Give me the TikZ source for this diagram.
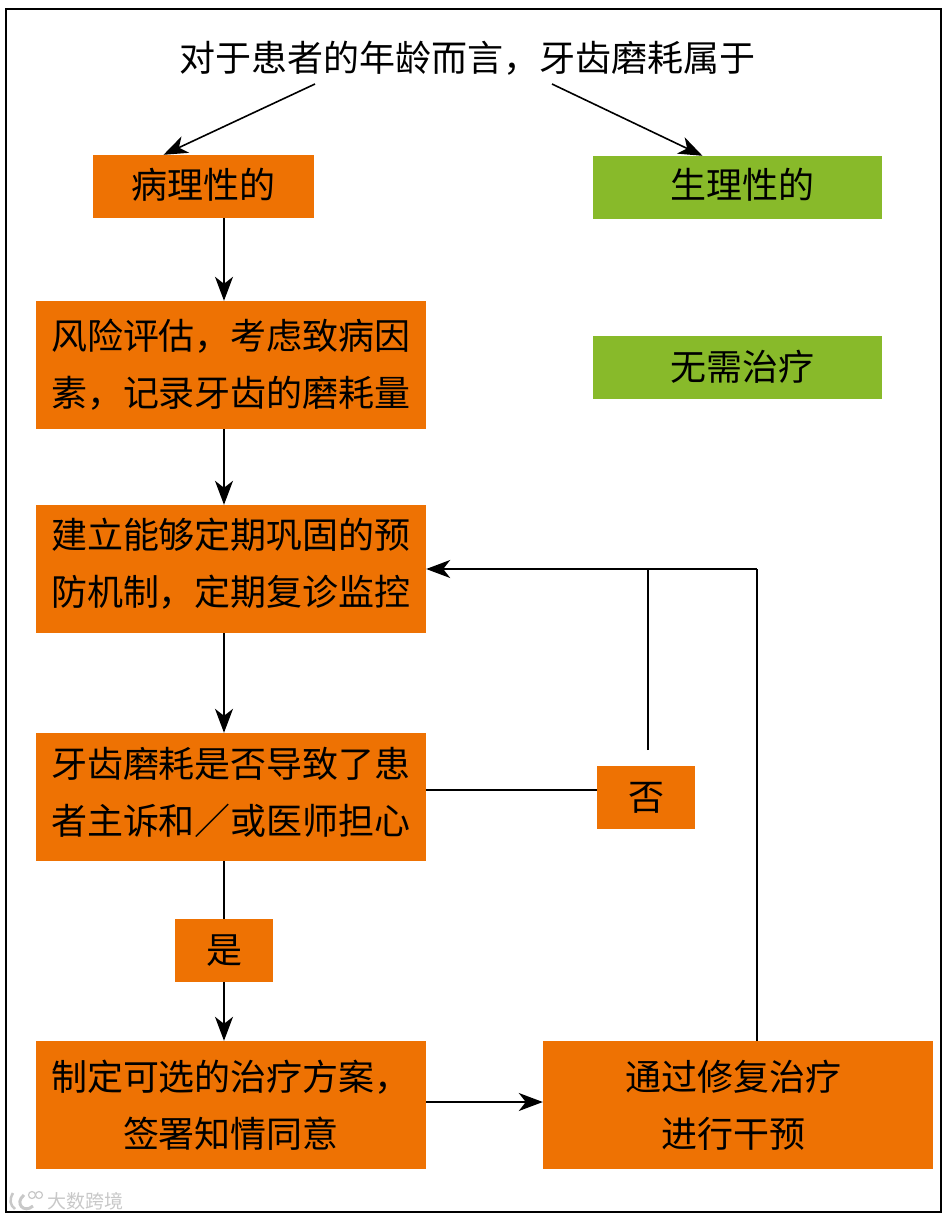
\documentclass[tikz,border=0pt]{standalone}
\usepackage{fontspec}
\newfontfamily\cjk{Noto Sans CJK SC}
\usepackage{xcolor}
\usetikzlibrary{positioning,arrows.meta,calc}
\definecolor{boxorange}{HTML}{EE7203}
\definecolor{boxgreen}{HTML}{88BA2A}
\definecolor{markgray}{HTML}{C8C8C8}
\begin{document}
\begin{tikzpicture}[x=1pt,y=-1pt,
  boxtext/.style={inner sep=0pt, align=center, font=\cjk\fontsize{36}{57}\selectfont, text=black},
  stepbox/.style={boxtext, fill=boxorange},
  okbox/.style={boxtext, fill=boxgreen},
  link/.style={-{Stealth[length=24pt,width=18pt,inset=7pt]}, line width=1.6pt},
  plain/.style={line width=1.6pt},
]
  % --- Frame ---
  \useasboundingbox (0,0) rectangle (952,1219);
  \node[draw, line width=2pt, minimum width=935pt, minimum height=1203pt, inner sep=0pt] (frame) at (473.5,610.5) {};

  % --- Top question ---
  \node[font=\cjk\fontsize{36}{40}\selectfont, inner sep=0pt] (question) at (467,58) {对于患者的年龄而言，牙齿磨耗属于};
  \coordinate (qleft) at (315,84);
  \coordinate (qright) at (552,84);

  % --- Left column ---
  \node[stepbox, minimum width=221pt, minimum height=63pt,
        label={[boxtext, name=pathotext, yshift=2pt]center:病理性的}] (patho) at (203.5,186.5) {};
  \node[stepbox, minimum width=390pt, minimum height=128pt] (risk) at (231,365) {风险评估，考虑致病因\\素，记录牙齿的磨耗量};
  \node[stepbox, minimum width=390pt, minimum height=128pt,
        label={[boxtext, name=preventtext, yshift=5pt]center:建立能够定期巩固的预\\防机制，定期复诊监控}] (prevent) at (231,569) {};
  \node[stepbox, minimum width=390pt, minimum height=128pt,
        label={[boxtext, name=asktext, yshift=5pt]center:牙齿磨耗是否导致了患\\者主诉和／或医师担心}] (ask) at (231,797) {};
  \node[stepbox, minimum width=98pt, minimum height=63pt] (yes) at (224,950.5) {是};
  \node[stepbox, minimum width=390pt, minimum height=128pt] (plan) at (231,1105) {制定可选的治疗方案，\\签署知情同意};

  % --- Right column ---
  \node[okbox, minimum width=289pt, minimum height=63pt,
        label={[boxtext, name=physiotext, xshift=4.5pt, yshift=2.5pt]center:生理性的}] (physio) at (737.5,187.5) {};
  \node[okbox, minimum width=289pt, minimum height=63pt,
        label={[boxtext, name=notreattext, xshift=4.5pt, yshift=1pt]center:无需治疗}] (notreat) at (737.5,367.5) {};
  \node[stepbox, minimum width=98pt, minimum height=63pt] (no) at (646,797.5) {否};
  \node[stepbox, minimum width=390pt, minimum height=128pt,
        label={[boxtext, name=repairtext, xshift=-5pt]center:通过修复治疗\\进行干预}] (repair) at (738,1105) {};

  % --- Watermark ---
  \node[font=\cjk\fontsize{19}{19}\selectfont, text=markgray, inner sep=0pt] (mark) at (85.5,1201) {大数跨境};
  \draw[markgray, line width=2.5pt] (13,1193) .. controls (9,1200) and (10,1205) .. (15,1209);
  \draw[markgray, line width=3pt] (24,1195) .. controls (14,1203) and (24,1214) .. (33,1206);
  \draw[markgray, line width=1.2pt] (32,1195) circle (3.5);
  \draw[markgray, line width=1.2pt] (39,1195) circle (3.5);

  % --- Arrows ---
  \draw[link] (qleft) -- ($(patho.north)+(-40,0)$);
  \draw[link] (qright) -- ($(physio.north)+(-35,0)$);
  \draw[link] (patho.south -| 224,0) -- (risk.north -| 224,0);
  \draw[link] (risk.south -| 224,0) -- (prevent.north -| 224,0);
  \draw[link] (prevent.south -| 224,0) -- (ask.north -| 224,0);
  \draw[plain] (ask.south -| 224,0) -- (yes.north);
  \draw[link] (yes.south) -- (plan.north -| 224,0);
  \draw[link] ($(plan.east)+(0,-3)$) -- ($(repair.west)+(0,-3)$);
  \draw[plain] (ask.east |- 0,790) -- (no.west |- 0,790);
  \coordinate (nobend) at (648,569);
  \draw[plain] (648,750) -- (nobend);
  \coordinate (repairbend) at (757,569);
  \draw[plain] (repair.north -| 757,0) -- (repairbend);
  \draw[link] (repairbend) -- (prevent.east);
\end{tikzpicture}
\end{document}
